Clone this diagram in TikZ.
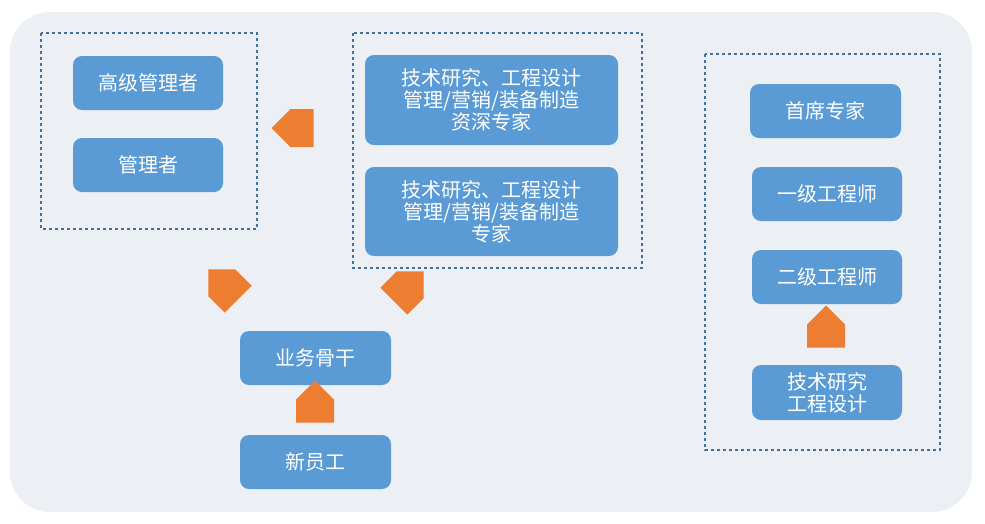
\documentclass[tikz,border=0pt]{standalone}
\usepackage{fontspec}
\setmainfont{Noto Sans CJK SC}
\usetikzlibrary{shapes.arrows}
\definecolor{bgc}{HTML}{ECEFF4}
\definecolor{boxc}{HTML}{5B9BD5}
\definecolor{dashc}{HTML}{41719C}
\definecolor{arrc}{HTML}{ED7D31}
\begin{document}
\begin{tikzpicture}[x=1pt,y=-1pt,
 bx/.style={fill=boxc,text=white,rounded corners=9pt,inner sep=0pt,font=\fontsize{20}{22}\selectfont,align=center},
 grp/.style={draw=dashc,dashed,line width=1.6pt},
 barr/.style={single arrow,fill=arrc,inner sep=0pt,minimum width=38pt,single arrow head extend=0pt,single arrow head indent=0pt,minimum height=42pt}]
\useasboundingbox (0,0) rectangle (985,523);
\fill[bgc,rounded corners=40pt] (10,12) rectangle (972,512);
\draw[grp] (41,33) rectangle (257,229);
\draw[grp] (353,33) rectangle (642,268);
\draw[grp] (705,54) rectangle (940,450);
\newcommand{\bxn}[6]{\node[bx,minimum width={#4-#2},minimum height={#5-#3}] (#1) at ({(#2+#4)/2},{(#3+#5)/2}) {#6};}
\bxn{a}{73}{56}{223}{110}{高级管理者}
\bxn{b}{73}{138}{223}{192}{管理者}
\bxn{c}{365}{55}{618}{145}{技术研究、工程设计\\管理/营销/装备制造\\资深专家}
\bxn{d}{365}{167}{618}{256}{技术研究、工程设计\\管理/营销/装备制造\\专家}
\bxn{e}{750}{84}{901}{138}{首席专家}
\bxn{f}{752}{167}{902}{221}{一级工程师}
\bxn{g}{752}{250}{902}{304}{二级工程师}
\bxn{h}{752}{365}{902}{420}{技术研究\\工程设计}
\bxn{i}{240}{331}{391}{385}{业务骨干}
\bxn{j}{240}{435}{391}{489}{新员工}
\node[barr,shape border rotate=180] (a1) at (302,128) {};
\node[barr,rotate=90] (a2) at (315,411) {};
\node[barr,rotate=135] (a3) at (230,291) {};
\node[barr,rotate=45] (a4) at (402,293) {};
\node[barr,rotate=90] (a5) at (826,336) {};
\end{tikzpicture}
\end{document}
